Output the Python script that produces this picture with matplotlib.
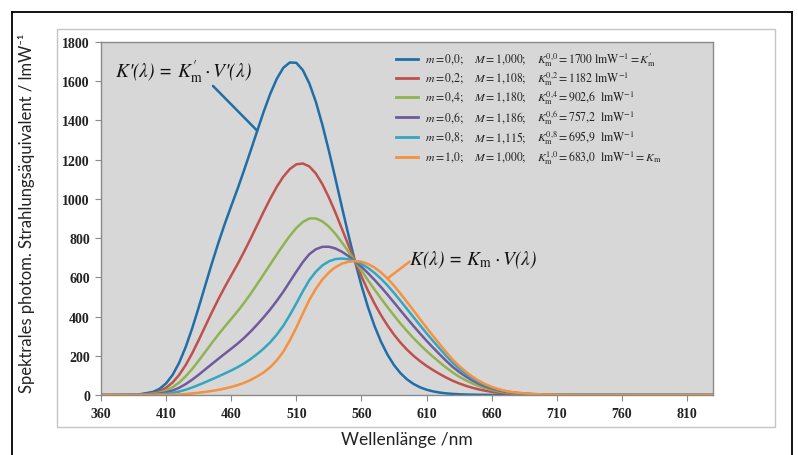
import matplotlib
matplotlib.use("Agg")
import matplotlib.pyplot as plt
from matplotlib.lines import Line2D

plt.rcParams['mathtext.fontset'] = 'stix'

# wavelength categories (nm)
lam = [360, 370, 380, 390, 400, 405, 410, 415, 420, 425, 430, 435, 440, 445, 450, 455, 460, 465,
       470, 475, 480, 485, 490, 495, 500, 505, 510, 515, 520, 525, 530, 535, 540, 545, 550, 555,
       560, 565, 570, 575, 580, 585, 590, 595, 600, 605, 610, 615, 620, 625, 630, 635, 640, 645,
       650, 655, 660, 665, 670, 675, 680, 690, 700, 710, 720, 730, 740, 750, 760, 780, 800, 830]

# spectral luminous efficacy series (lm/W)
k_m00 = [0, 0, 1.0, 3.8,
         15.8, 31.5, 59.2, 102.6, 164.1, 244.0, 339.5, 446.0, 557.4, 667.9,
         773.0, 871.6, 963.3, 1053.4, 1148.5, 1247.1, 1347.3, 1445.9, 1535.9, 1612.4,
         1668.4, 1695.6, 1693.9, 1656.5, 1588.6, 1495.1, 1377.9, 1245.4, 1104.4, 958.2,
         817.2, 683.0, 558.6, 448.4, 352.7, 272.2, 205.9, 152.7, 111.3, 79.7,
         56.3, 39.3, 27.1, 18.5, 12.5, 8.4, 5.7, 3.8, 2.5, 1.7,
         1.2, 0.8, 0.5, 0.4, 0.3, 0.2, 0.1,
         0.1, 0, 0, 0, 0, 0, 0, 0, 0, 0, 0]
k_m02 = [0, 0, 0.6, 2.3,
         9.8, 19.6, 36.8, 63.8, 102.2, 152.3, 212.3, 279.4, 349.7, 419.6,
         486.6, 549.9, 609.6, 668.8, 731.9, 798.4, 867.1, 935.8, 1001.4, 1061.8,
         1113.2, 1152.1, 1176.1, 1180.6, 1165.4, 1129.5, 1075.3, 1007.4, 930.7, 847.5,
         764.4, 683.0, 605.0, 532.7, 466.8, 407.5, 354.8, 308.0, 266.9, 231.1,
         200.0, 172.7, 148.4, 127.0, 107.5, 89.3, 72.9, 59.2, 47.4, 37.2,
         28.7, 21.9, 16.3, 11.9, 8.5, 6.2, 4.5,
         2.2, 1.1, 0.55, 0.27, 0.14, 0.07, 0.03, 0.02, 0, 0, 0]
k_m04 = [0, 0, 0.4, 1.5,
         6.1, 12.1, 22.8, 39.5, 63.4, 94.9, 132.6, 174.9, 219.5, 263.9,
         307.0, 348.3, 387.9, 427.7, 470.8, 517.1, 566.0, 616.0, 666.4, 716.7,
         765.2, 811.4, 851.5, 882.3, 900.1, 900.4, 885.6, 858.3, 821.9, 778.2,
         731.4, 683.0, 634.1, 585.6, 538.3, 492.4, 448.2, 405.3, 364.4, 326.1,
         290.1, 256.3, 224.5, 195.0, 167.1, 140.0, 115.1, 93.9, 75.5, 59.5,
         46.0, 35.1, 26.2, 19.1, 13.7, 9.9, 7.3,
         3.5, 1.75, 0.89, 0.45, 0.22, 0.11, 0.05, 0.03, 0, 0, 0]
k_m06 = [0, 0, 0.2, 0.9,
         3.5, 7.0, 13.2, 22.9, 36.8, 55.5, 78.0, 103.3, 130.2, 157.2,
         183.9, 210.1, 235.9, 262.4, 291.8, 324.2, 359.6, 396.8, 436.7, 480.1,
         526.6, 577.8, 628.9, 677.7, 718.2, 743.2, 755.5, 756.0, 747.2, 730.5,
         708.6, 683.0, 654.0, 621.8, 587.3, 550.6, 512.1, 471.9, 431.2, 391.1,
         351.8, 313.6, 276.6, 241.5, 207.9, 174.7, 143.9, 117.7, 94.8, 74.8,
         57.9, 44.1, 33.0, 24.1, 17.3, 12.5, 9.2,
         4.4, 2.2, 1.13, 0.56, 0.28, 0.13, 0.06, 0.03, 0, 0, 0]
k_m08 = [0, 0, 0.1, 0.4,
         1.7, 3.3, 6.2, 10.7, 17.5, 26.8, 38.2, 51.2, 65.2, 79.5,
         94.2, 109.4, 125.2, 142.1, 161.4, 183.8, 209.3, 237.1, 269.4, 307.8,
         352.9, 407.7, 466.9, 528.8, 585.7, 628.8, 660.8, 681.5, 692.9, 695.9,
         692.1, 683.0, 668.5, 648.3, 623.0, 593.0, 558.7, 520.6, 480.0, 438.5,
         396.7, 355.3, 314.6, 275.5, 237.6, 200.0, 165.0, 135.0, 108.8, 85.9,
         66.5, 50.7, 37.9, 27.7, 19.9, 14.4, 10.6,
         5.1, 2.55, 1.30, 0.65, 0.32, 0.15, 0.07, 0.04, 0, 0, 0]
k_m10 = [0, 0, 0.03, 0.08,
         0.27, 0.44, 0.83, 1.49, 2.73, 4.99, 7.92, 11.5, 15.7, 20.4,
         26.0, 32.8, 41.0, 50.5, 62.1, 76.9, 95.0, 115.6, 142.1, 176.6,
         220.6, 278.2, 343.5, 415.4, 484.9, 541.8, 588.7, 624.8, 651.6, 669.5,
         679.5, 683.0, 679.6, 668.4, 650.2, 625.2, 594.2, 557.5, 517.0, 474.6,
         431.0, 387.1, 343.5, 301.3, 260.2, 219.2, 181.0, 148.2, 119.5, 94.4,
         73.1, 55.7, 41.7, 30.4, 21.9, 15.8, 11.6,
         5.6, 2.8, 1.43, 0.72, 0.36, 0.17, 0.08, 0.04, 0, 0, 0]

series = [k_m00, k_m02, k_m04, k_m06, k_m08, k_m10]
colors = ['#1f6ea6', '#c0504d', '#8fb350', '#6f5a9e', '#33a6c2', '#f5913f']

legend_m = ["0,0", "0,2", "0,4", "0,6", "0,8", "1,0"]
legend_M = ["1,000", "1,108", "1,180", "1,186", "1,115", "1,000"]
legend_K = [r"$K_{\rm m}^{0{,}0} = 1700\ {\rm lmW}^{-1} = K^{\prime}_{\rm m}$",
            r"$K_{\rm m}^{0{,}2} = 1182\ {\rm lmW}^{-1}$",
            r"$K_{\rm m}^{0{,}4} = 902{,}6\ \ {\rm lmW}^{-1}$",
            r"$K_{\rm m}^{0{,}6} = 757{,}2\ \ {\rm lmW}^{-1}$",
            r"$K_{\rm m}^{0{,}8} = 695{,}9\ \ {\rm lmW}^{-1}$",
            r"$K_{\rm m}^{1{,}0} = 683{,}0\ \ {\rm lmW}^{-1} = K_{\rm m}$"]

x_ticks = [360, 410, 460, 510, 560, 610, 660, 710, 760, 810]
y_ticks = [0, 200, 400, 600, 800, 1000, 1200, 1400, 1600, 1800]

W, H = 798, 456
fig = plt.figure(figsize=(W / 100, H / 100), dpi=100)

def fx(px):
    return px / W

def fy(py):
    return 1 - py / H

# outer black frame (bottom runs off the image)
for (x0, y0, x1, y1) in [(12, 13, 792, 13), (12, 13, 12, 460), (792, 13, 792, 460)]:
    fig.add_artist(Line2D([fx(x0), fx(x1)], [fy(y0), fy(y1)], color='black', lw=1.3))
# inner chart-area frame
fig.add_artist(plt.Rectangle((fx(57), fy(428)), fx(775) - fx(57), fy(30) - fy(428),
                             fill=False, edgecolor='#c4c4c4', lw=1.0))

ax = fig.add_axes([fx(101), fy(396), fx(713) - fx(101), fy(43) - fy(396)])
ax.set_facecolor('#d7d7d7')
for sp in ax.spines.values():
    sp.set_color('#8a8a8a')
    sp.set_linewidth(1.0)

for ys, c in zip(series, colors):
    ax.plot(lam, ys, color=c, lw=1.8, solid_joinstyle='round')

ax.set_xlim(360, 830)
ax.set_ylim(0, 1800)
ax.set_xticks(x_ticks)
ax.set_yticks(y_ticks)
tick_font = dict(family='Liberation Serif', weight='bold', size=10)
ax.set_xticklabels([str(t) for t in x_ticks], **tick_font)
ax.set_yticklabels([str(t) for t in y_ticks], **tick_font)
ax.tick_params(axis='both', direction='out', length=4, width=0.8, color='#8a8a8a',
               labelcolor='#222222')
ax.tick_params(axis='y', pad=4)
ax.tick_params(axis='x', pad=5)

lab_font = ['Lato', 'DejaVu Sans']
fig.text(fx(27), fy(213), "Spektrales photom. Strahlungsäquivalent / lmW⁻¹", rotation=90,
         ha='center', va='center', fontsize=12, family=lab_font, color='#222222')
fig.text(fx(407), fy(440), "Wellenlänge /nm", ha='center', va='center', fontsize=12.5,
         family=lab_font, color='#222222')

# legend (manual columns)
row_y = [60, 79, 98, 118, 138, 158]
for i in range(6):
    y = fy(row_y[i])
    fig.add_artist(Line2D([fx(396), fx(418)], [y, y], color=colors[i], lw=2.0))
    fig.text(fx(425), y, r"$m = %s;$" % legend_m[i].replace(",", "{,}"), ha='left',
             va='center', fontsize=8.5, color='#222222')
    fig.text(fx(474), y, r"$M = %s;$" % legend_M[i].replace(",", "{,}"), ha='left',
             va='center', fontsize=8.5, color='#222222')
    fig.text(fx(537), y, legend_K[i], ha='left', va='center', fontsize=8.5,
             color='#222222')

# formula annotations
formula_font = dict(family='STIXGeneral', style='italic', fontsize=14, color='#111111')
ax.text(423, 1652, "K'(λ) = $K^{\\prime}_{\\rm m}\\cdot V$'(λ)", ha='center', va='center',
        **formula_font)
i480 = lam.index(480)
ax.annotate("", xy=(lam[i480], k_m00[i480]), xytext=(446, 1576),
            arrowprops=dict(arrowstyle='-', color=colors[0], lw=1.8,
                            shrinkA=0, shrinkB=0))
ax.text(646, 693, "K(λ) = $K_{\\rm m}\\cdot V$(λ)", ha='center', va='center',
        **formula_font)
i580 = lam.index(580)
ax.annotate("", xy=(lam[i580], k_m10[i580]), xytext=(597, 680),
            arrowprops=dict(arrowstyle='-', color=colors[5], lw=1.8,
                            shrinkA=0, shrinkB=0))

fig.savefig("out.png", dpi=100)
